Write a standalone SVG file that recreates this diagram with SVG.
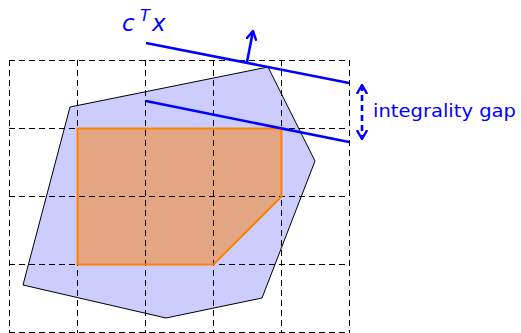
<svg xmlns="http://www.w3.org/2000/svg" width="521" height="333" viewBox="0 0 521 333">
<style>
.grid{fill:none;stroke:#000;stroke-width:1;stroke-dasharray:6,4}
.blue{stroke:#0000ff;stroke-width:2.6;fill:none}
.lbl{font-family:"DejaVu Sans","Liberation Sans",sans-serif;fill:#0000ff}
</style>
<defs>
<marker id="ah" viewBox="0 0 10 10" refX="8" refY="5" markerWidth="4.5" markerHeight="4.5" orient="auto-start-reverse" markerUnits="strokeWidth">
<path d="M1,1 L8,5 L1,9" fill="none" stroke="#0000ff" stroke-width="2" stroke-linecap="round" stroke-linejoin="round"/>
</marker>
</defs>
<rect width="521" height="333" fill="#fff"/>
<g id="lp-polytope">
<polygon points="70,107 268,67 315,161 262,298 166,318 23,285" fill="#ccccff" stroke="#000" stroke-width="1"/>
</g>
<g id="integer-hull-fill">
<polygon points="77,128 281,128 281,196 213,264 77,264" fill="#e4a682"/>
</g>
<g id="grid">
<path class="grid" d="M9,60.5H349M9,128.5H349M9,196.5H349M9,264.5H349M9,332.5H349M9.5,60V333M77.5,60V333M145.5,60V333M213.5,60V333M281.5,60V333M349.5,60V333"/>
</g>
<g id="integer-hull">
<polygon points="77.5,128.5 281.5,128.5 281.5,196.5 213.5,264.5 77.5,264.5" fill="none" stroke="#ff8000" stroke-width="2" stroke-linejoin="round"/>
</g>
<g id="connectors">
<line class="blue" x1="146" y1="43" x2="349" y2="83"/>
<line class="blue" x1="146" y1="101" x2="349" y2="142"/>
<line class="blue" x1="247" y1="62" x2="253" y2="31" marker-end="url(#ah)"/>
<line class="blue" x1="362" y1="85" x2="362" y2="139" stroke-dasharray="6,4" marker-start="url(#ah)" marker-end="url(#ah)"/>
</g>
<g id="objective-label">
<text class="lbl" x="122" y="31" font-size="23" font-style="italic">c</text>
<text class="lbl" x="140" y="21" font-size="16" font-style="italic">T</text>
<text class="lbl" x="152" y="31" font-size="23" font-style="italic">x</text>
</g>
<g id="gap-label">
<text class="lbl" x="373" y="117" font-size="17" textLength="143" lengthAdjust="spacingAndGlyphs">integrality gap</text>
</g>
</svg>
